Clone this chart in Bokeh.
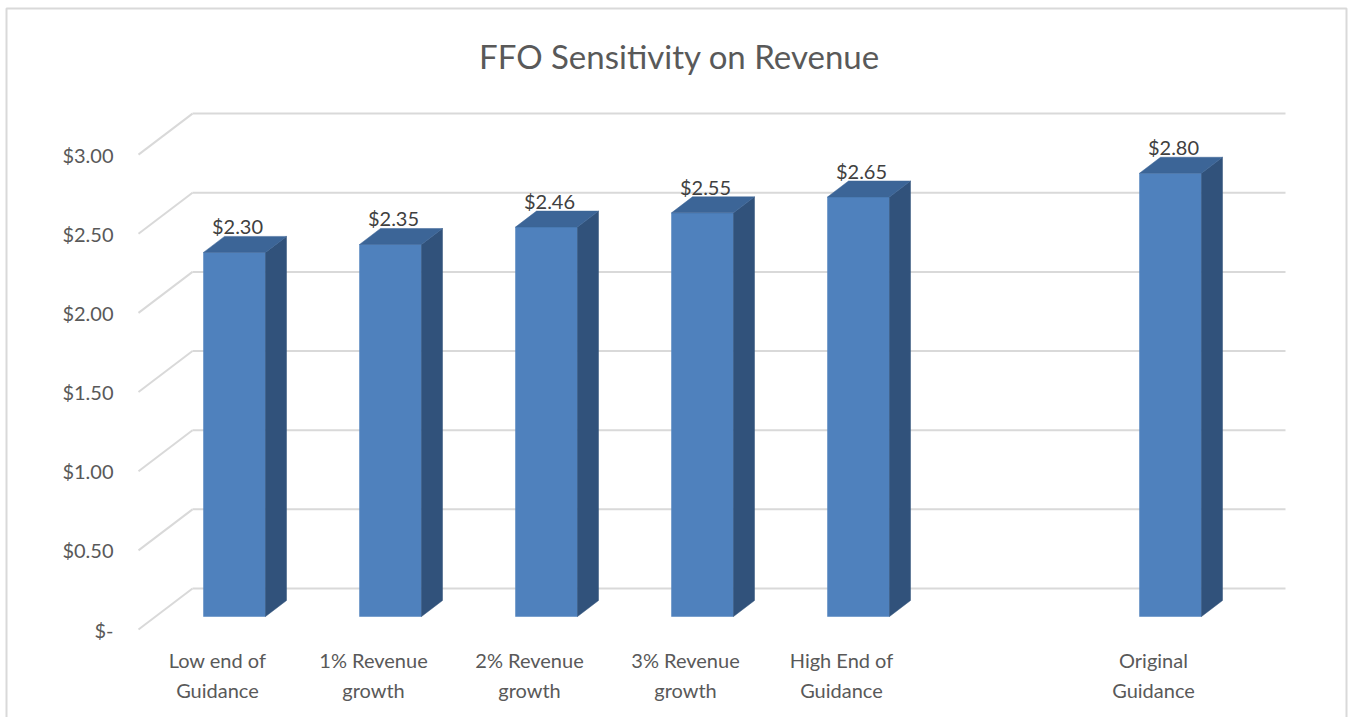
from bokeh.plotting import figure
from bokeh.models import Range1d
from bokeh.core.properties import value
from bokeh.embed import file_html
from bokeh.resources import INLINE

# ---------------- data ----------------
categories = ["Low end of\nGuidance", "1% Revenue\ngrowth", "2% Revenue\ngrowth",
              "3% Revenue\ngrowth", "High End of\nGuidance", "", "Original\nGuidance"]
ffo = [2.30, 2.35, 2.46, 2.55, 2.65, None, 2.80]
value_labels = ["$2.30", "$2.35", "$2.46", "$2.55", "$2.65", "", "$2.80"]
tick_values = [0.0, 0.5, 1.0, 1.5, 2.0, 2.5, 3.0]
tick_labels = ["$-", "$0.50", "$1.00", "$1.50", "$2.00", "$2.50", "$3.00"]
title_text = "FFO Sensitivity on Revenue"

# ---------------- layout constants (pixel geometry) ----------------
W, H = 1348, 717
X0, UX = 234.0, 156.0     # pixel x of first category, pixels per category
Y0, UY = 616.0, 158.3     # pixel y of zero, pixels per unit value

def X(px):
    return (px - X0) / UX

def Y(py):
    return (Y0 - py) / UY

def ox(px):
    return px / UX

FONT = value("Lato")
TXT = "#595959"
GRID = "#D9D9D9"
FRONT = "#4f81bd"
SIDE = "#31527b"
TOP = "#3c6597"

p = figure(width=W, height=H, output_backend="svg", toolbar_location=None,
           x_range=Range1d(X(0), X(W)), y_range=Range1d(Y(H), Y(0)),
           x_axis_location=None, y_axis_location=None, min_border=0)
p.outline_line_color = None
p.xgrid.visible = False
p.ygrid.visible = False
p.background_fill_color = "white"
p.border_fill_color = "white"

# chart border
p.quad(left=[X(6)], right=[X(1346)], top=[Y(8)], bottom=[Y(740)],
       fill_color=None, line_color=GRID, line_width=2)

# 3D gridlines: back wall + diagonal side wall
back_dy = 28.0    # back wall is 28 px above bar-front plane
front_dy = -13.0  # front edge is 13 px below
hx0, hx1, hy = [], [], []
dxs, dys = [], []
for t in tick_values:
    yb = t + back_dy / UY
    yf = t + front_dy / UY
    hx0.append(X(192)); hx1.append(X(1285)); hy.append(yb)
    dxs.append([X(138), X(192)])
    dys.append([yf, yb])
p.segment(x0=hx0, y0=hy, x1=hx1, y1=hy, line_color=GRID, line_width=2)
p.multi_line(xs=dxs, ys=dys, line_color=GRID, line_width=2)

# y tick labels
p.text(x=[X(113)] * len(tick_values), y=[t + front_dy / UY for t in tick_values],
       text=tick_labels, text_align="right", text_baseline="middle",
       text_font=FONT, text_font_size="20px", text_color=TXT)

# bars
half = ox(31)
ddx, ddy = ox(21), 16.0 / UY
fl, fr, ft = [], [], []
side_xs, side_ys, top_xs, top_ys = [], [], [], []
lab_x, lab_y, lab_t = [], [], []
for i, v in enumerate(ffo):
    if v is None:
        continue
    l, r = i - half, i + half
    fl.append(l); fr.append(r); ft.append(v)
    side_xs.append([r, r + ddx, r + ddx, r])
    side_ys.append([0, ddy, v + ddy, v])
    top_xs.append([l, l + ddx, r + ddx, r])
    top_ys.append([v, v + ddy, v + ddy, v])
    lab_x.append(i + ox(3)); lab_y.append(v + ddy + 10.0 / UY); lab_t.append(value_labels[i])

p.quad(left=fl, right=fr, top=ft, bottom=[0] * len(ft), fill_color=FRONT, line_color=FRONT, line_width=0.5)
p.patches(xs=side_xs, ys=side_ys, fill_color=SIDE, line_color=SIDE, line_width=0.5)
p.patches(xs=top_xs, ys=top_ys, fill_color=TOP, line_color=TOP, line_width=0.5)

# value labels
p.text(x=lab_x, y=lab_y, text=lab_t, text_align="center", text_baseline="middle",
       text_font=FONT, text_font_size="20px", text_color="#404040")

# category labels
cx = [i - ox(17) for i, c in enumerate(categories) if c]
ct = [c for c in categories if c]
p.text(x=cx, y=[Y(674.5)] * len(ct), text=ct, text_align="center", text_baseline="middle",
       text_font=FONT, text_font_size="20px", text_color=TXT, text_line_height=1.25)

# title
p.text(x=[X(679)], y=[Y(55)], text=[title_text], text_align="center", text_baseline="middle",
       text_font=FONT, text_font_size="33px", text_color=TXT)

open("out.html", "w").write(file_html(p, INLINE))
